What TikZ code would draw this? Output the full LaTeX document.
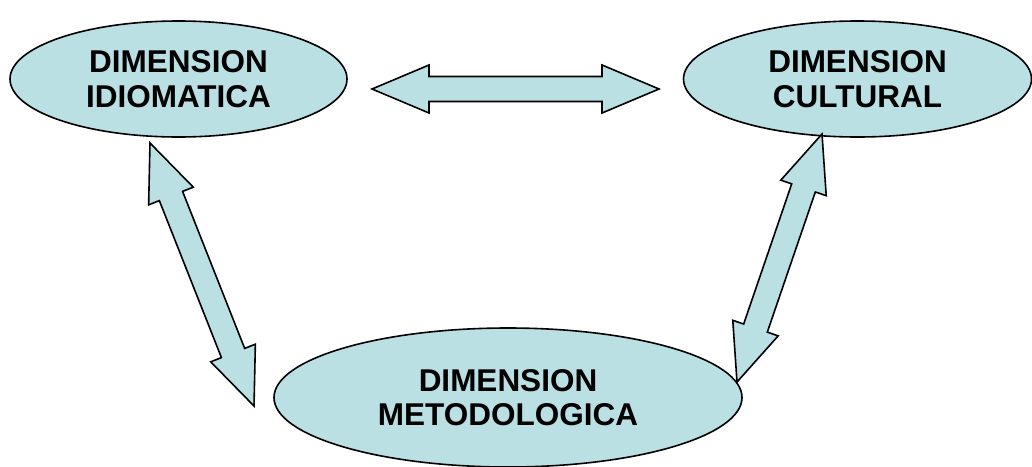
\documentclass[tikz,border=0pt]{standalone}
\usepackage{fontspec}
\setmainfont{Liberation Sans}
\usetikzlibrary{shapes.geometric,calc}
\definecolor{dimfill}{RGB}{186,224,228}
\tikzset{
  dimbox/.style={ellipse, draw=black, line width=1.6pt, fill=dimfill, inner sep=0pt,
     align=center, font=\fontsize{31.5}{34.7}\selectfont\bfseries},
  blockarrowstyle/.style={draw=black, line width=1.6pt, fill=dimfill, line join=miter}
}
\newcommand\blockarrow[2]{%
  \coordinate (#1ha) at ($(#1)!57pt!(#2)$);
  \coordinate (#1hb) at ($(#2)!57pt!(#1)$);
  \draw[blockarrowstyle] (#1) -- ($(#1ha)!24pt!90:(#2)$) -- ($(#1ha)!12.5pt!90:(#2)$)
    -- ($(#1hb)!12.5pt!-90:(#1)$) -- ($(#1hb)!24pt!-90:(#1)$) -- (#2)
    -- ($(#1hb)!24pt!90:(#1)$) -- ($(#1hb)!12.5pt!90:(#1)$)
    -- ($(#1ha)!12.5pt!-90:(#2)$) -- ($(#1ha)!24pt!-90:(#2)$) -- cycle;}
\begin{document}
\begin{tikzpicture}[x=1pt,y=-1pt]
\useasboundingbox (0,0) rectangle (1032,466);
\node[dimbox, minimum width=337pt, minimum height=116pt] (idio) at (178.5,79) {DIMENSION\\IDIOMATICA};
\node[dimbox, minimum width=348pt, minimum height=116pt] (cult) at (857.5,79) {DIMENSION\\CULTURAL};
\node[dimbox, minimum width=468pt, minimum height=139pt] (meto) at (508,397.5) {DIMENSION\\METODOLOGICA};
\coordinate (h1) at (372,89);
\coordinate (h2) at (659,89);
\coordinate (l1) at (150,143);
\coordinate (l2) at (254,406);
\coordinate (r1) at (822,134);
\coordinate (r2) at (737,382);
\blockarrow{h1}{h2}
\blockarrow{l1}{l2}
\blockarrow{r1}{r2}
\end{tikzpicture}
\end{document}
